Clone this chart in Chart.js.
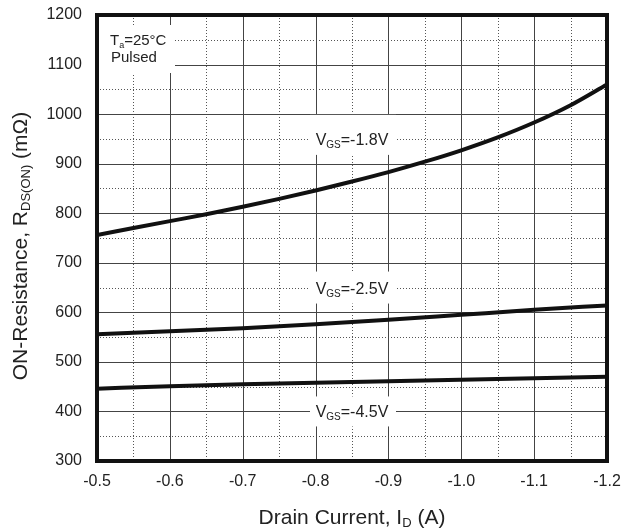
<!DOCTYPE html>
<html>
<head>
<meta charset="utf-8">
<script src="https://cdn.jsdelivr.net/npm/chart.js@4.4.1/dist/chart.umd.min.js"></script>
<style>
  html, body { margin: 0; padding: 0; background: #fff; }
  #wrap { width: 621px; height: 530px; }
</style>
</head>
<body>
<div id="wrap"><canvas id="rdsChart" width="621" height="530"></canvas></div>
<script>
// drain current (A) and on-resistance (mOhm)
const current18 = [-0.5, -0.55, -0.6, -0.65, -0.7, -0.75, -0.8, -0.85, -0.9, -0.95, -1.0, -1.05, -1.1, -1.15, -1.2];
const rds18 = [756, 770, 784, 798, 813, 829, 846, 864, 883, 904, 927, 953, 983, 1018, 1060];

const current = [-0.5, -0.6, -0.7, -0.8, -0.9, -1.0, -1.1, -1.2];
const rds25 = [556, 562, 568, 576, 585, 595, 605, 614];
const rds45 = [446, 451, 455, 458, 461, 464, 467, 470];

const xRange = [-1.2, -0.5];
const yRange = [300, 1200];

const FONT = '"Liberation Sans", Arial, Helvetica, sans-serif';

function pts(xs, ys) {
    return xs.map((x, i) => ({ x: x, y: ys[i] }));
}

// curve labels, anchored in data units
const curveLabels = [
    { x: -0.85, y: 950, main: "V", sub: "GS", rest: "=-1.8V", up: 24, down: 16 },
    { x: -0.85, y: 650, main: "V", sub: "GS", rest: "=-2.5V", up: 16, down: 16 },
    { x: -0.85, y: 400, main: "V", sub: "GS", rest: "=-4.5V", up: 15, down: 15 },
];

function drawParts(ctx, parts, x, y, size, align) {
    let w = 0;
    parts.forEach(p => {
        ctx.font = (p.sub ? Math.round(size * 0.6) : size) + "px " + FONT;
        p.w = ctx.measureText(p.t).width;
        w += p.w;
    });
    let cx = align === "center" ? x - w / 2 : x;
    ctx.textAlign = "left";
    ctx.textBaseline = "alphabetic";
    parts.forEach(p => {
        ctx.font = (p.sub ? Math.round(size * 0.6) : size) + "px " + FONT;
        ctx.fillText(p.t, cx, p.sub ? y + 3 : y);
        cx += p.w;
    });
}

const gridPlugin = {
    id: "gridPlugin",
    beforeDatasetsDraw(chart) {
        const ctx = chart.ctx;
        const area = chart.chartArea;
        const xs = chart.scales.x;
        const ys = chart.scales.y;
        ctx.save();
        ctx.lineWidth = 1;

        // minor dotted lines halfway between ticks
        ctx.strokeStyle = "#555";
        ctx.setLineDash([1, 2]);
        for (let i = 0; i < xs.ticks.length - 1; i++) {
            const px = Math.round(xs.getPixelForValue((xs.ticks[i].value + xs.ticks[i + 1].value) / 2)) + 0.5;
            ctx.beginPath(); ctx.moveTo(px, area.top); ctx.lineTo(px, area.bottom); ctx.stroke();
        }
        for (let i = 0; i < ys.ticks.length - 1; i++) {
            const py = Math.round(ys.getPixelForValue((ys.ticks[i].value + ys.ticks[i + 1].value) / 2)) + 0.5;
            ctx.beginPath(); ctx.moveTo(area.left, py); ctx.lineTo(area.right, py); ctx.stroke();
        }

        // major solid lines
        ctx.setLineDash([]);
        ctx.strokeStyle = "#444";
        xs.ticks.forEach(t => {
            const px = Math.round(xs.getPixelForValue(t.value)) + 0.5;
            ctx.beginPath(); ctx.moveTo(px, area.top); ctx.lineTo(px, area.bottom); ctx.stroke();
        });
        ys.ticks.forEach(t => {
            const py = Math.round(ys.getPixelForValue(t.value)) + 0.5;
            ctx.beginPath(); ctx.moveTo(area.left, py); ctx.lineTo(area.right, py); ctx.stroke();
        });

        // condition box, top left
        ctx.fillStyle = "#fff";
        ctx.fillRect(area.left, area.top + 10, 78, 48);
        ctx.fillStyle = "#222";
        drawParts(ctx, [{ t: "T" }, { t: "a", sub: true }, { t: "=25°C" }], area.left + 13, area.top + 30, 15, "left");
        drawParts(ctx, [{ t: "Pulsed" }], area.left + 14, area.top + 47, 15, "left");

        // curve labels
        curveLabels.forEach(l => {
            const px = xs.getPixelForValue(l.x);
            const py = ys.getPixelForValue(l.y);
            ctx.fillStyle = "#fff";
            ctx.fillRect(px - 42, py - l.up, 86, l.up + l.down);
            ctx.fillStyle = "#222";
            drawParts(ctx, [{ t: l.main }, { t: l.sub, sub: true }, { t: l.rest }], px, py + 6, 16, "center");
        });
        ctx.restore();
    },
    afterDatasetsDraw(chart) {
        const ctx = chart.ctx;
        const a = chart.chartArea;
        ctx.save();
        ctx.strokeStyle = "#111";
        ctx.lineWidth = 4;
        ctx.strokeRect(a.left, a.top, a.right - a.left, a.bottom - a.top);
        ctx.restore();
    },
    afterDraw(chart) {
        const ctx = chart.ctx;
        const a = chart.chartArea;
        ctx.save();
        ctx.fillStyle = "#222";
        drawParts(ctx, [{ t: "Drain Current, I" }, { t: "D", sub: true }, { t: " (A)" }], (a.left + a.right) / 2, 524, 21, "center");
        ctx.translate(27, 246);
        ctx.rotate(-Math.PI / 2);
        drawParts(ctx, [{ t: "ON-Resistance, R" }, { t: "DS(ON)", sub: true }, { t: " (mΩ)" }], 0, 0, 21, "center");
        ctx.restore();
    },
};

const lineStyle = {
    borderColor: "#111",
    borderWidth: 4,
    pointRadius: 0,
    fill: false,
    cubicInterpolationMode: "monotone",
};

const ctx = document.getElementById("rdsChart").getContext("2d");
const rdsChart = new Chart(ctx, {
    type: "line",
    data: {
        datasets: [
            Object.assign({ label: "VGS=-1.8V", data: pts(current18, rds18) }, lineStyle),
            Object.assign({ label: "VGS=-2.5V", data: pts(current, rds25) }, lineStyle),
            Object.assign({ label: "VGS=-4.5V", data: pts(current, rds45) }, lineStyle),
        ],
    },
    options: {
        responsive: false,
        animation: false,
        layout: { padding: { top: 15, right: 14, bottom: 0, left: 0 } },
        plugins: { legend: { display: false }, tooltip: { enabled: false } },
        scales: {
            x: {
                type: "linear",
                reverse: true,
                min: xRange[0],
                max: xRange[1],
                grid: { display: false, drawTicks: false, tickLength: 0 },
                border: { display: false },
                ticks: {
                    stepSize: 0.1,
                    color: "#222",
                    padding: 11,
                    maxRotation: 0,
                    font: { family: FONT, size: 16 },
                    callback: v => v.toFixed(1),
                },
                afterFit: s => {
                    s.height = 69;
                    s.paddingLeft = 0;
                    s.paddingRight = 0;
                },
            },
            y: {
                min: yRange[0],
                max: yRange[1],
                grid: { display: false, drawTicks: false, tickLength: 0 },
                border: { display: false },
                ticks: {
                    stepSize: 100,
                    color: "#222",
                    padding: 15,
                    font: { family: FONT, size: 16 },
                    callback: v => String(v),
                },
                afterFit: s => {
                    s.width = 97;
                    s.paddingTop = 0;
                    s.paddingBottom = 0;
                },
            },
        },
    },
    plugins: [gridPlugin],
});
</script>
</body>
</html>
